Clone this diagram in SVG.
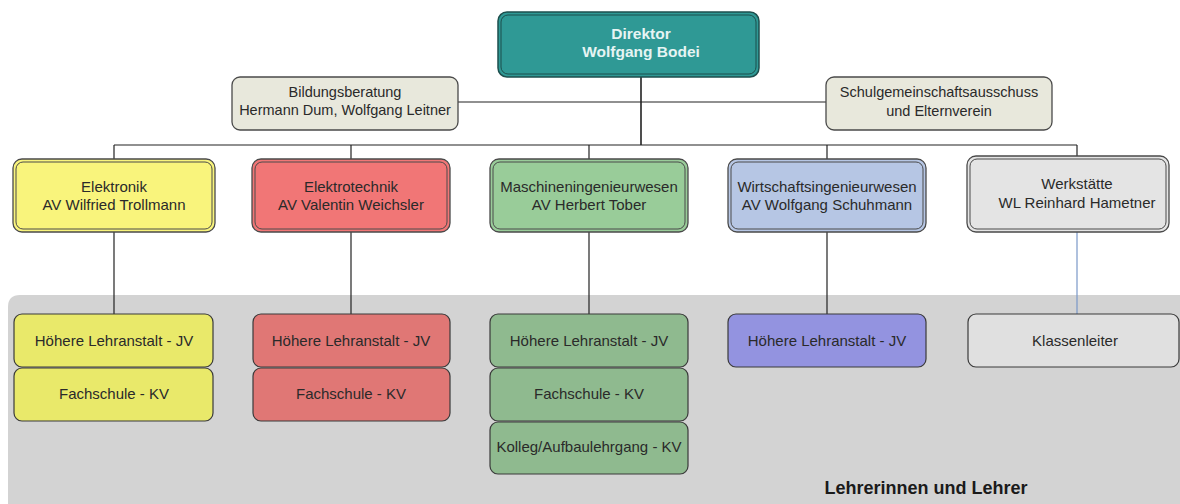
<svg xmlns="http://www.w3.org/2000/svg" width="1180" height="504" viewBox="0 0 1180 504">
<style>
text{font-family:"Liberation Sans",Arial,sans-serif;font-size:15px;fill:#2a2a2a;text-anchor:middle}
.dir text{fill:#e6f4f3;font-weight:bold;font-size:15.5px}
.staffg text{font-size:14.5px}
.outer{stroke:#4a4a4a;stroke-width:1.3}
.inner{fill:none;stroke:#4a4a4a;stroke-width:1}
.staff{fill:#e8e8dc;stroke:#4a4a4a;stroke-width:1.3}
.sub{stroke:#3a3a3a;stroke-width:1.2}
.conn line{stroke:#222;stroke-width:1.2}
</style>
<rect x="0" y="0" width="1180" height="504" fill="#ffffff"/>
<path d="M8,307 Q8,295 20,295 L1180,295 L1180,504 L8,504 Z" fill="#d3d3d3"/>
<text x="926" y="494" style="font-size:18px;font-weight:bold;fill:#1a1a1a">Lehrerinnen und Lehrer</text>

<g class="conn">
<line x1="641" y1="76" x2="641" y2="145" style="stroke-width:1.6"/>
<line x1="458" y1="102" x2="826" y2="102"/>
<line x1="114" y1="145" x2="1077" y2="145"/>
<line x1="114" y1="145" x2="114" y2="160"/>
<line x1="351" y1="145" x2="351" y2="160"/>
<line x1="589" y1="145" x2="589" y2="160"/>
<line x1="827" y1="145" x2="827" y2="160"/>
<line x1="1077" y1="145" x2="1077" y2="156"/>
<line x1="114" y1="232" x2="114" y2="314"/>
<line x1="351" y1="232" x2="351" y2="314"/>
<line x1="589" y1="232" x2="589" y2="314"/>
<line x1="827" y1="232" x2="827" y2="314"/>
<line x1="1077" y1="232" x2="1077" y2="314" style="stroke:#7a98c8"/>
</g>

<g id="direktor" class="dir">
<rect x="498" y="12" width="261" height="65" rx="9" fill="#2f9995" stroke="#1d4f4d" stroke-width="1.5"/>
<rect x="501" y="15" width="255" height="59" rx="7" fill="none" stroke="#1d4f4d" stroke-width="1"/>
<text x="641" y="39">Direktor</text>
<text x="641" y="57">Wolfgang Bodei</text>
</g>

<g id="bildungsberatung" class="staffg">
<rect class="staff" x="232" y="77" width="226" height="53" rx="8"/>
<text x="345" y="97">Bildungsberatung</text>
<text x="345" y="115">Hermann Dum, Wolfgang Leitner</text>
</g>

<g id="schulgemeinschaft" class="staffg">
<rect class="staff" x="826" y="77" width="226" height="53" rx="8"/>
<text x="939" y="97">Schulgemeinschaftsausschuss</text>
<text x="939" y="116">und Elternverein</text>
</g>

<g id="elektronik">
<rect class="outer" x="13" y="159" width="202" height="73" rx="9" fill="#f9f47c"/>
<rect class="inner" x="16" y="162" width="196" height="67" rx="7"/>
<text x="114" y="192">Elektronik</text>
<text x="114" y="210">AV Wilfried Trollmann</text>
</g>

<g id="elektrotechnik">
<rect class="outer" x="252" y="159" width="198" height="73" rx="9" fill="#f17676"/>
<rect class="inner" x="255" y="162" width="192" height="67" rx="7"/>
<text x="351" y="192">Elektrotechnik</text>
<text x="351" y="210">AV Valentin Weichsler</text>
</g>

<g id="maschinen">
<rect class="outer" x="490" y="159" width="198" height="73" rx="9" fill="#99cc99"/>
<rect class="inner" x="493" y="162" width="192" height="67" rx="7"/>
<text x="589" y="192">Maschineningenieurwesen</text>
<text x="589" y="210">AV Herbert Tober</text>
</g>

<g id="wirtschaft">
<rect class="outer" x="728" y="159" width="198" height="73" rx="9" fill="#b6c6e4"/>
<rect class="inner" x="731" y="162" width="192" height="67" rx="7"/>
<text x="827" y="192">Wirtschaftsingenieurwesen</text>
<text x="827" y="210">AV Wolfgang Schuhmann</text>
</g>

<g id="werkstaette">
<rect class="outer" x="967" y="156" width="202" height="76" rx="9" fill="#e4e4e4"/>
<rect class="inner" x="970" y="159" width="196" height="70" rx="7"/>
<text x="1077" y="189">Werkstätte</text>
<text x="1077" y="208">WL Reinhard Hametner</text>
</g>

<g id="elektronik-sub">
<rect class="sub" x="14" y="314" width="199" height="53" rx="8" fill="#e9e96a"/>
<rect class="sub" x="14" y="368" width="199" height="53" rx="8" fill="#e9e96a"/>
<text x="114" y="346">Höhere Lehranstalt - JV</text>
<text x="114" y="399">Fachschule - KV</text>
</g>

<g id="elektrotechnik-sub">
<rect class="sub" x="253" y="314" width="197" height="53" rx="8" fill="#e07775"/>
<rect class="sub" x="253" y="368" width="197" height="53" rx="8" fill="#e07775"/>
<text x="351" y="346">Höhere Lehranstalt - JV</text>
<text x="351" y="399">Fachschule - KV</text>
</g>

<g id="maschinen-sub">
<rect class="sub" x="490" y="314" width="198" height="53" rx="8" fill="#8fba8f"/>
<rect class="sub" x="490" y="368" width="198" height="53" rx="8" fill="#8fba8f"/>
<rect class="sub" x="490" y="422" width="198" height="52" rx="8" fill="#8fba8f"/>
<text x="589" y="346">Höhere Lehranstalt - JV</text>
<text x="589" y="399">Fachschule - KV</text>
<text x="589" y="452">Kolleg/Aufbaulehrgang - KV</text>
</g>

<g id="wirtschaft-sub">
<rect class="sub" x="728" y="314" width="198" height="53" rx="8" fill="#9393e0"/>
<text x="827" y="346">Höhere Lehranstalt - JV</text>
</g>

<g id="klassenleiter">
<rect class="sub" x="968" y="314" width="211" height="53" rx="8" fill="#e0e0e0"/>
<text x="1075" y="346">Klassenleiter</text>
</g>
</svg>
